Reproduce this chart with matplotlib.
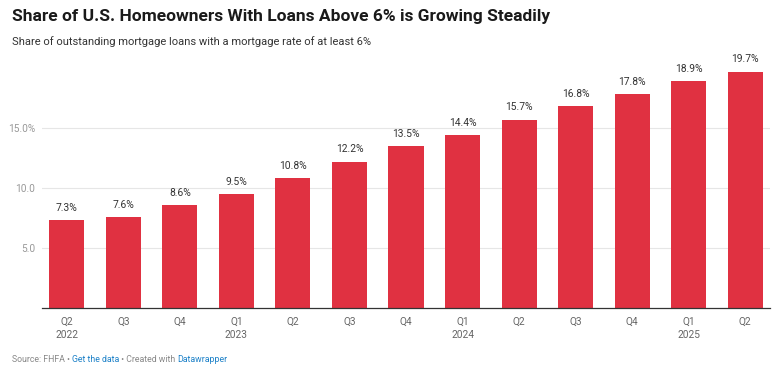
import matplotlib
matplotlib.use("Agg")
import matplotlib.pyplot as plt
import numpy as np

# ----- Data -----
quarters = ["Q2\n2022", "Q3", "Q4", "Q1\n2023", "Q2", "Q3", "Q4",
            "Q1\n2024", "Q2", "Q3", "Q4", "Q1\n2025", "Q2"]
share = [7.3, 7.6, 8.6, 9.5, 10.8, 12.2, 13.5, 14.4, 15.7, 16.8, 17.8, 18.9, 19.7]
y_ticks = [5, 10, 15]
y_tick_labels = ["5.0", "10.0", "15.0%"]

plt.rcParams["font.family"] = ["Roboto", "DejaVu Sans"]

W, H = 780, 374
fig = plt.figure(figsize=(W / 100, H / 100), dpi=100)
ax = fig.add_axes([42 / W, (H - 308) / H, 728 / W, 240 / H])

x = np.arange(len(share))
ax.bar(x, share, width=0.62, color="#e03141", zorder=3)

for xi, v in zip(x, share):
    ax.text(xi, v + 0.6, f"{v}%", ha="center", va="bottom",
            fontsize=7.4, color="#333333")

ax.set_xlim(-0.44, len(share) - 0.56)
ax.set_ylim(0, 20)
ax.set_yticks(y_ticks)
ax.set_yticklabels(y_tick_labels, fontsize=7.3, color="#999999")
ax.set_xticks(x)
ax.set_xticklabels(quarters, fontsize=7.3, color="#666666", linespacing=1.5)
ax.tick_params(axis="both", length=0)
ax.tick_params(axis="x", pad=6)
ax.tick_params(axis="y", pad=5)
ax.grid(axis="y", color="#e6e6e6", linewidth=0.8, zorder=0)
for s in ["top", "right", "left"]:
    ax.spines[s].set_visible(False)
ax.spines["bottom"].set_color("#333333")
ax.spines["bottom"].set_linewidth(0.9)
ax.spines["bottom"].set_zorder(4)

# ----- Titles -----
fig.text(12 / W, 1 - 17 / H, "Share of U.S. Homeowners With Loans Above 6% is Growing Steadily",
         fontsize=12.5, fontweight="bold", color="#1a1a1a", va="center")
fig.text(12 / W, 1 - 42 / H, "Share of outstanding mortgage loans with a mortgage rate of at least 6%",
         fontsize=8.0, color="#333333", va="center")

# ----- Footer -----
parts = [("Source: FHFA • ", "#888888"), ("Get the data", "#1d81c8"),
         (" • Created with ", "#888888"), ("Datawrapper", "#1d81c8")]
fig.canvas.draw()
r = fig.canvas.get_renderer()
xpos = 12
for txt, col in parts:
    t = fig.text(xpos / W, 1 - 360 / H, txt, fontsize=6.3, color=col, va="center")
    xpos += t.get_window_extent(renderer=r).width

fig.savefig("out.png", dpi=100)
